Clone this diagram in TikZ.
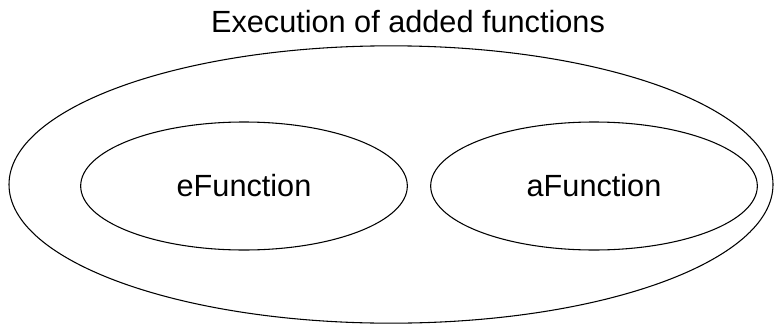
\documentclass[tikz,border=0pt]{standalone}
\usepackage{fontspec}
\setmainfont{Liberation Sans}
\usetikzlibrary{shapes.geometric}

\begin{document}
\begin{tikzpicture}[x=0.75pt, y=-0.75pt, line width=0.8pt,
  every node/.style={font=\fontsize{23}{27}\selectfont},
  func/.style={draw, ellipse, inner sep=0pt, minimum width=245pt, minimum height=96pt}]
  \useasboundingbox (0,0) rectangle (774,325);

  % outer set and its title
  \node[draw, ellipse, minimum width=573pt, minimum height=208pt] (added) at (391,184.5) {};
  \node[anchor=base] (title) at (408,32) {Execution of added functions};

  % the two functions inside
  \node[func] (efunc) at (244,186) {eFunction};
  \node[func] (afunc) at (594,186) {aFunction};
\end{tikzpicture}
\end{document}
